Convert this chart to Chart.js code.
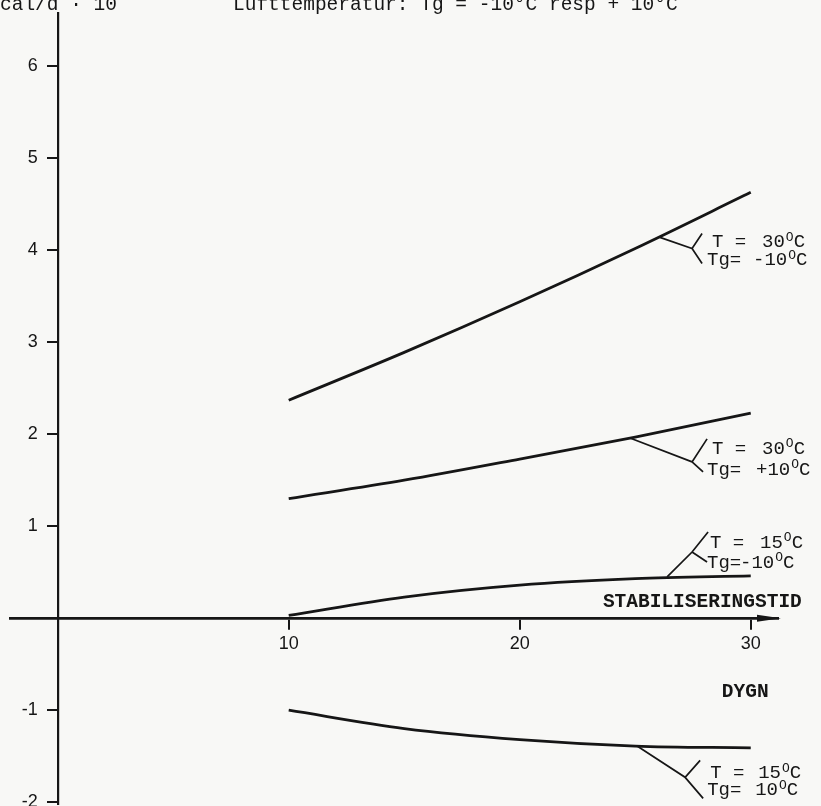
<!DOCTYPE html>
<html>
<head>
<meta charset="utf-8">
<script src="https://cdn.jsdelivr.net/npm/chart.js@4.4.1/dist/chart.umd.min.js"></script>
<style>
  html, body { margin: 0; padding: 0; background: #f8f8f6; }
  #wrap { width: 821px; height: 806px; position: relative; }
</style>
</head>
<body>
<div id="wrap"><canvas id="c" width="821" height="806"></canvas></div>
<script>
// Stabiliseringstid (dygn) and computed values for four temperature pairs
const days = [10, 15, 20, 25, 30];
const t30Tgm10 = [2.37, 2.89, 3.44, 4.02, 4.63];
const t30Tgp10 = [1.30, 1.50, 1.73, 1.97, 2.23];
const t15Tgm10 = [0.03, 0.23, 0.36, 0.43, 0.46];
const t15Tgp10 = [-1.00, -1.20, -1.32, -1.39, -1.41];

const xTicks = [10, 20, 30];
const yTicks = [-2, -1, 1, 2, 3, 4, 5, 6];

// concrete temperature T and air temperature Tg for each curve
const tempT  = ['30', '30', '15', '15'];
const tempTg = ['-10', '+10', '-10', '10'];

const titleText = 'Lufttemperatur: Tg = -10°C resp + 10°C';
const unitText = 'cal/d · 10';
const xTitle = 'STABILISERINGSTID';
const xUnit = 'DYGN';

// Leader lines: start on the curve, fork point (data units), arm and text offsets (px);
// gT / gTg: where the number starts after "T =" / "Tg="
const leaders = [
  { from: [26.07, 4.14], fork: [27.46, 4.02], up: [10, -15], down: [10, 15], t: [20, -6],  tg: [15, 12], gT: 50, gTg: 46 },
  { from: [24.77, 1.96], fork: [27.46, 1.70], up: [15, -23], down: [11, 10], t: [20, -13], tg: [15, 8],  gT: 50, gTg: 49 },
  { from: [26.38, 0.45], fork: [27.46, 0.72], up: [16, -20], down: [15, 10], t: [18, -9],  tg: [15, 11], gT: 50, gTg: 33 },
  { from: [25.08, -1.39], fork: [27.16, -1.73], up: [15, -17], down: [18, 21], t: [25, -4], tg: [22, 13], gT: 48, gTg: 48 }
];

const ink = '#161616';
const mono = '"Liberation Mono", "Courier New", monospace';
const sans = '"Liberation Sans", Arial, sans-serif';

const toPoints = ys => days.map((d, i) => ({ x: d, y: ys[i] }));
const lineStyle = {
  borderColor: ink, borderWidth: 2.8, pointRadius: 0,
  cubicInterpolationMode: 'monotone', fill: false
};

// "T =" head, the number, the raised "O" of the degree sign, then "C"
function drawDegLabel(ctx, head, num, gap, x, y) {
  ctx.font = '19px ' + mono;
  ctx.textBaseline = 'middle';
  ctx.textAlign = 'left';
  ctx.fillText(head, x, y);
  let cx = x + gap;
  ctx.fillText(num, cx, y);
  cx += ctx.measureText(num).width;
  ctx.font = '13px ' + mono;
  ctx.fillText('O', cx + 1, y - 5);
  cx += ctx.measureText('O').width + 1;
  ctx.font = '19px ' + mono;
  ctx.fillText('C', cx, y);
}

const paperAndNotes = {
  id: 'paperAndNotes',
  beforeDraw(chart) {
    const ctx = chart.ctx;
    ctx.save();
    ctx.fillStyle = '#f8f8f6';
    ctx.fillRect(0, 0, chart.width, chart.height);
    ctx.restore();
  },
  afterDraw(chart) {
    const ctx = chart.ctx;
    const xs = chart.scales.x, ys = chart.scales.y;
    const area = chart.chartArea;
    const y0 = ys.getPixelForValue(0);
    const x0 = xs.getPixelForValue(0);
    ctx.save();
    ctx.fillStyle = ink;
    ctx.strokeStyle = ink;

    // arrow head on the time axis
    const tip = area.right + 3;
    ctx.beginPath();
    ctx.moveTo(tip, y0);
    ctx.lineTo(tip - 24, y0 - 3.5);
    ctx.lineTo(tip - 24, y0 + 3.5);
    ctx.closePath();
    ctx.fill();

    // y tick labels
    ctx.font = '18px ' + sans;
    ctx.textAlign = 'right';
    ctx.textBaseline = 'middle';
    yTicks.forEach(v => {
      ctx.fillText(String(v), x0 - 20, ys.getPixelForValue(v));
    });

    // header line
    ctx.font = '19.5px ' + mono;
    ctx.textAlign = 'left';
    ctx.textBaseline = 'alphabetic';
    ctx.fillText(unitText, 0, 10);
    ctx.fillText(titleText, 233, 10);

    // axis captions
    ctx.font = 'bold 19.5px ' + mono;
    ctx.textBaseline = 'middle';
    ctx.fillText(xTitle, xs.getPixelForValue(23.6), ys.getPixelForValue(0.17));
    ctx.fillText(xUnit, xs.getPixelForValue(28.75), ys.getPixelForValue(-0.80));

    // series labels with forked leaders
    ctx.lineWidth = 1.7;
    leaders.forEach((L, i) => {
      const sx = xs.getPixelForValue(L.from[0]), sy = ys.getPixelForValue(L.from[1]);
      const fx = xs.getPixelForValue(L.fork[0]), fy = ys.getPixelForValue(L.fork[1]);
      ctx.beginPath();
      ctx.moveTo(sx, sy);
      ctx.lineTo(fx, fy);
      ctx.lineTo(fx + L.up[0], fy + L.up[1]);
      ctx.moveTo(fx, fy);
      ctx.lineTo(fx + L.down[0], fy + L.down[1]);
      ctx.stroke();
      drawDegLabel(ctx, 'T =', tempT[i], L.gT, fx + L.t[0], fy + L.t[1]);
      drawDegLabel(ctx, 'Tg=', tempTg[i], L.gTg, fx + L.tg[0], fy + L.tg[1]);
    });
    ctx.restore();
  }
};

new Chart(document.getElementById('c'), {
  type: 'line',
  data: {
    datasets: [
      Object.assign({ label: 'T = 30°C, Tg = -10°C', data: toPoints(t30Tgm10) }, lineStyle),
      Object.assign({ label: 'T = 30°C, Tg = +10°C', data: toPoints(t30Tgp10) }, lineStyle),
      Object.assign({ label: 'T = 15°C, Tg = -10°C', data: toPoints(t15Tgm10) }, lineStyle),
      Object.assign({ label: 'T = 15°C, Tg = 10°C', data: toPoints(t15Tgp10) }, lineStyle)
    ]
  },
  options: {
    responsive: false,
    animation: false,
    devicePixelRatio: 1,
    layout: { padding: { left: 10, top: 13, right: 43, bottom: 2 } },
    plugins: { legend: { display: false }, tooltip: { enabled: false }, title: { display: false } },
    scales: {
      x: {
        type: 'linear', min: -2.065, max: 31.18, position: { y: 0 },
        afterBuildTicks: s => { s.ticks = xTicks.map(v => ({ value: v })); },
        grid: { drawOnChartArea: false, drawTicks: true, tickLength: 10, lineWidth: 2, color: ink },
        border: { display: true, width: 2.8, color: ink },
        ticks: { color: ink, font: { family: sans, size: 18 }, padding: 5, maxRotation: 0, autoSkip: false }
      },
      y: {
        type: 'linear', min: -2.02, max: 6.58, position: { x: 0 },
        afterBuildTicks: s => { s.ticks = yTicks.map(v => ({ value: v })); },
        grid: { drawOnChartArea: false, drawTicks: true, tickLength: 10, lineWidth: 2, color: ink },
        border: { display: true, width: 2.2, color: ink },
        ticks: { display: false }
      }
    }
  },
  plugins: [paperAndNotes]
});
</script>
</body>
</html>
